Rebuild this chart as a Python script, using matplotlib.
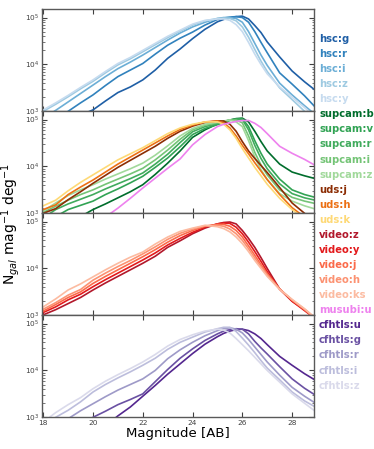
import numpy as np
import matplotlib
matplotlib.use("Agg")
import matplotlib.pyplot as plt

mags = [18, 18.5, 19, 19.5, 20, 20.5, 21, 21.5, 22, 22.5, 23, 23.5, 24, 24.5,
        25, 25.25, 25.5, 25.75, 26, 26.25, 26.5, 26.75, 27, 27.5, 28, 28.5, 29]

# log10 of N_gal per mag per deg^2
hsc_g = [2.5, 2.65, 2.8, 2.92, 3.03, 3.22, 3.40, 3.52, 3.67, 3.88, 4.13, 4.33, 4.55, 4.75, 4.91, 4.96, 4.99, 5.02, 5.03, 4.97, 4.83, 4.68, 4.48, 4.16, 3.86, 3.63, 3.42]
hsc_r = [2.6, 2.8, 3.0, 3.18, 3.35, 3.55, 3.74, 3.88, 4.02, 4.22, 4.41, 4.56, 4.69, 4.84, 4.96, 4.99, 5.01, 5.02, 5.0, 4.90, 4.70, 4.47, 4.25, 3.82, 3.58, 3.33, 3.05]
hsc_i = [2.85, 3.02, 3.2, 3.38, 3.56, 3.74, 3.91, 4.05, 4.2, 4.36, 4.52, 4.67, 4.8, 4.9, 4.98, 5.0, 5.0, 4.98, 4.9, 4.70, 4.45, 4.20, 3.98, 3.6, 3.35, 3.12, 2.9]
hsc_z = [3.0, 3.15, 3.31, 3.48, 3.64, 3.82, 3.99, 4.12, 4.27, 4.42, 4.57, 4.71, 4.84, 4.93, 4.98, 4.99, 4.98, 4.93, 4.80, 4.58, 4.32, 4.07, 3.85, 3.50, 3.25, 3.0, 2.8]
hsc_y = [3.03, 3.18, 3.34, 3.51, 3.67, 3.85, 4.02, 4.15, 4.30, 4.45, 4.60, 4.73, 4.86, 4.94, 4.97, 4.97, 4.94, 4.85, 4.70, 4.47, 4.22, 4.0, 3.80, 3.52, 3.30, 3.08, 2.85]

supcam_b = [2.4, 2.55, 2.75, 2.93, 3.08, 3.2, 3.33, 3.46, 3.61, 3.83, 4.07, 4.33, 4.62, 4.78, 4.91, 4.96, 4.99, 5.02, 5.03, 4.95, 4.75, 4.53, 4.33, 4.05, 3.88, 3.80, 3.73]
supcam_v = [2.75, 2.93, 3.08, 3.17, 3.26, 3.4, 3.52, 3.65, 3.79, 3.98, 4.18, 4.42, 4.68, 4.81, 4.89, 4.94, 4.98, 5.01, 5.02, 4.85, 4.55, 4.28, 4.05, 3.73, 3.50, 3.40, 3.33]
supcam_r = [2.9, 3.08, 3.2, 3.3, 3.40, 3.52, 3.63, 3.74, 3.86, 4.05, 4.26, 4.51, 4.74, 4.85, 4.91, 4.95, 4.99, 5.01, 5.0, 4.78, 4.45, 4.17, 3.95, 3.63, 3.42, 3.33, 3.27]
supcam_i = [3.02, 3.15, 3.28, 3.4, 3.50, 3.62, 3.73, 3.84, 3.96, 4.14, 4.35, 4.58, 4.78, 4.88, 4.93, 4.96, 4.99, 4.99, 4.93, 4.65, 4.30, 4.03, 3.82, 3.50, 3.34, 3.26, 3.2]
supcam_z = [3.05, 3.22, 3.38, 3.5, 3.61, 3.73, 3.84, 3.95, 4.07, 4.24, 4.44, 4.65, 4.81, 4.9, 4.95, 4.97, 4.99, 4.95, 4.85, 4.55, 4.20, 3.93, 3.72, 3.42, 3.26, 3.16, 3.08]
uds_j = [3.0, 3.1, 3.29, 3.46, 3.64, 3.81, 3.98, 4.13, 4.28, 4.43, 4.60, 4.75, 4.86, 4.94, 4.97, 4.97, 4.90, 4.75, 4.53, 4.33, 4.17, 4.02, 3.87, 3.55, 3.22, 3.0, 2.75]
uds_h = [3.08, 3.18, 3.40, 3.56, 3.71, 3.88, 4.05, 4.2, 4.35, 4.5, 4.65, 4.79, 4.88, 4.95, 4.97, 4.93, 4.82, 4.65, 4.45, 4.27, 4.08, 3.90, 3.72, 3.40, 3.12, 2.92, 2.7]
uds_k = [3.16, 3.28, 3.48, 3.66, 3.82, 3.98, 4.14, 4.27, 4.40, 4.55, 4.70, 4.82, 4.9, 4.95, 4.95, 4.90, 4.78, 4.60, 4.38, 4.18, 3.98, 3.80, 3.62, 3.32, 3.08, 2.88, 2.7]
musubi_u = [2.0, 2.2, 2.4, 2.6, 2.78, 2.92, 3.11, 3.32, 3.54, 3.75, 3.96, 4.16, 4.46, 4.68, 4.85, 4.90, 4.93, 4.96, 4.98, 4.98, 4.92, 4.83, 4.70, 4.43, 4.28, 4.15, 4.0]

video_z = [3.01, 3.12, 3.25, 3.38, 3.54, 3.69, 3.83, 3.97, 4.11, 4.26, 4.45, 4.59, 4.74, 4.86, 4.95, 4.98, 4.99, 4.95, 4.81, 4.64, 4.45, 4.23, 4.0, 3.56, 3.3, 3.12, 2.9]
video_y = [3.06, 3.18, 3.33, 3.45, 3.61, 3.76, 3.90, 4.04, 4.18, 4.33, 4.50, 4.64, 4.77, 4.88, 4.95, 4.97, 4.96, 4.88, 4.74, 4.56, 4.36, 4.15, 3.93, 3.56, 3.3, 3.1, 2.9]
video_j = [3.09, 3.23, 3.38, 3.50, 3.68, 3.83, 3.97, 4.11, 4.25, 4.40, 4.56, 4.70, 4.81, 4.90, 4.94, 4.94, 4.90, 4.81, 4.67, 4.48, 4.28, 4.08, 3.89, 3.56, 3.32, 3.12, 2.9]
video_h = [3.13, 3.27, 3.43, 3.55, 3.75, 3.9, 4.04, 4.17, 4.31, 4.46, 4.62, 4.75, 4.84, 4.91, 4.92, 4.90, 4.84, 4.74, 4.60, 4.42, 4.22, 4.04, 3.86, 3.56, 3.33, 3.13, 2.9]
video_ks = [3.18, 3.35, 3.54, 3.67, 3.82, 3.97, 4.11, 4.24, 4.35, 4.52, 4.67, 4.79, 4.86, 4.92, 4.89, 4.85, 4.78, 4.67, 4.53, 4.36, 4.17, 4.0, 3.83, 3.55, 3.34, 3.14, 2.92]

cfhtls_u = [1.9, 2.1, 2.3, 2.45, 2.6, 2.82, 3.03, 3.22, 3.45, 3.68, 3.92, 4.14, 4.36, 4.56, 4.72, 4.79, 4.84, 4.87, 4.88, 4.85, 4.78, 4.68, 4.55, 4.30, 4.11, 3.93, 3.77]
cfhtls_g = [2.4, 2.55, 2.7, 2.85, 3.0, 3.13, 3.27, 3.38, 3.50, 3.76, 4.02, 4.26, 4.46, 4.64, 4.78, 4.84, 4.87, 4.89, 4.88, 4.78, 4.62, 4.48, 4.35, 4.08, 3.82, 3.62, 3.45]
cfhtls_r = [2.6, 2.8, 2.97, 3.14, 3.29, 3.44, 3.58, 3.70, 3.82, 4.0, 4.25, 4.44, 4.60, 4.74, 4.85, 4.89, 4.91, 4.88, 4.80, 4.66, 4.50, 4.34, 4.18, 3.90, 3.64, 3.45, 3.28]
cfhtls_i = [2.85, 3.0, 3.15, 3.33, 3.54, 3.70, 3.84, 3.97, 4.11, 4.26, 4.45, 4.60, 4.71, 4.82, 4.89, 4.92, 4.92, 4.83, 4.69, 4.54, 4.38, 4.21, 4.05, 3.80, 3.54, 3.35, 3.2]
cfhtls_z = [2.9, 3.1, 3.27, 3.42, 3.61, 3.77, 3.91, 4.04, 4.18, 4.34, 4.52, 4.66, 4.76, 4.84, 4.88, 4.86, 4.80, 4.68, 4.55, 4.42, 4.28, 4.14, 4.0, 3.75, 3.50, 3.30, 3.1]

panels = [
    [("hsc:g", hsc_g, "#1f5fa6"), ("hsc:r", hsc_r, "#3182bd"), ("hsc:i", hsc_i, "#6baed6"),
     ("hsc:z", hsc_z, "#9ecae1"), ("hsc:y", hsc_y, "#c6dbef")],
    [("supcam:b", supcam_b, "#006d2c"), ("supcam:v", supcam_v, "#31a354"), ("supcam:r", supcam_r, "#41ab5d"),
     ("supcam:i", supcam_i, "#74c476"), ("supcam:z", supcam_z, "#a1d99b"),
     ("uds:j", uds_j, "#8c2d04"), ("uds:h", uds_h, "#ec7014"), ("uds:k", uds_k, "#fed976"),
     ("musubi:u", musubi_u, "#ee82ee")],
    [("video:z", video_z, "#b2182b"), ("video:y", video_y, "#e31a1c"), ("video:j", video_j, "#fb6a4a"),
     ("video:h", video_h, "#fc9272"), ("video:ks", video_ks, "#fcbba1")],
    [("cfhtls:u", cfhtls_u, "#54278f"), ("cfhtls:g", cfhtls_g, "#6a51a3"), ("cfhtls:r", cfhtls_r, "#9e9ac8"),
     ("cfhtls:i", cfhtls_i, "#bcbddc"), ("cfhtls:z", cfhtls_z, "#dadaeb")],
]
legend_order = [p[0] for p in panels[0]] + [p[0] for p in panels[1][:8]] \
    + [p[0] for p in panels[2]] + ["musubi:u"] + [p[0] for p in panels[3]]
colors = {name: c for pan in panels for name, _, c in pan}

fig = plt.figure(figsize=(3.74, 4.49), dpi=100)
left, right = 42 / 374, 314 / 374
bottom, top = 1 - 417.3 / 449, 1 - 9.3 / 449
h = (top - bottom) / 4
x = np.array(mags)
axes = []
for k, pan in enumerate(panels):
    ax = fig.add_axes([left, top - (k + 1) * h, right - left, h])
    for name, vals, c in pan:
        ax.plot(x, 10 ** np.array(vals), color=c, lw=1.2)
    ax.set_yscale("log")
    ax.set_ylim(1e3, 1.5e5)
    ax.set_xlim(17.95, 28.88)
    ax.set_xticks([18, 20, 22, 24, 26, 28])
    ax.tick_params(which="both", direction="in", top=True, right=True, labelsize=5.3,
                   colors="0.25", pad=2)
    ax.tick_params(which="major", length=3.5, width=0.8)
    ax.tick_params(which="minor", length=1.8, width=0.5)
    for s in ax.spines.values():
        s.set_color("0.35")
        s.set_linewidth(1.0)
    if k < 3:
        ax.tick_params(labelbottom=False)
    axes.append(ax)

axes[-1].set_xlabel("Magnitude [AB]", fontsize=9.5, labelpad=1)
fig.text(0.028, 0.5, r"N$_{gal}$ mag$^{-1}$ deg$^{-1}$", rotation=90, fontsize=10,
         ha="center", va="center")

y0 = 1 - 39 / 449
step = 15.07 / 449
for i, name in enumerate(legend_order):
    fig.text(0.853, y0 - i * step, name, color=colors[name], fontsize=7.2,
             fontweight="bold", ha="left", va="center")

fig.savefig("out.png", dpi=100)
